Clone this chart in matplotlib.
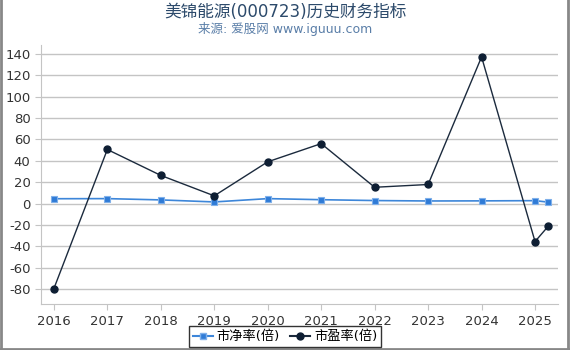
import matplotlib.pyplot as plt
from matplotlib.lines import Line2D

plt.rcParams['font.family'] = ['DejaVu Sans', 'Noto Sans CJK SC']
plt.rcParams['axes.unicode_minus'] = False

# data
years = [2016, 2017, 2018, 2019, 2020, 2021, 2022, 2023, 2024, 2025, 2025.25]
pb = [4.5, 4.6, 3.4, 1.5, 4.6, 3.6, 2.8, 2.4, 2.5, 2.7, 1.3]
pe = [-79.5, 50.5, 26.3, 7.2, 39.0, 56.0, 15.2, 17.8, 137.0, -35.5, -21.0]
year_ticks = [2016, 2017, 2018, 2019, 2020, 2021, 2022, 2023, 2024, 2025]
y_ticks = [-80, -60, -40, -20, 0, 20, 40, 60, 80, 100, 120, 140]

fig = plt.figure(figsize=(5.7, 3.5), dpi=100)
ax = fig.add_axes([0.072, 0.131, 0.907, 0.74])

ax.plot(years, pb, color='#3d86d9', lw=1.2, marker='s', ms=5,
        mfc='#2f7bd6', mec='#7fb0ea', mew=0.8, label='市净率(倍)', zorder=3)
ax.plot(years, pe, color='#1b2a3d', lw=1.0, marker='o', ms=5,
        mfc='#0e1e33', mec='#0e1e33', label='市盈率(倍)', zorder=4)

ax.set_xlim(2015.76, 2025.43)
ax.set_ylim(-94, 148)
ax.set_yticks(y_ticks)
ax.set_xticks(year_ticks)
ax.grid(axis='y', color='#c4c4c4', lw=1)
ax.set_axisbelow(True)
for s in ['top', 'right']:
    ax.spines[s].set_visible(False)
ax.spines['left'].set_color('#c4c4c4')
ax.spines['bottom'].set_color('#c4c4c4')
ax.tick_params(axis='both', colors='#c4c4c4', labelcolor='#333333',
               labelsize=9.5, length=4)

fig.text(0.5, 0.965, '美锦能源(000723)历史财务指标', ha='center', va='center',
         fontsize=12, color='#2c4a6b')
fig.text(0.5, 0.918, '来源: 爱股网 www.iguuu.com', ha='center', va='center',
         fontsize=9, color='#5a7ea8')

handles = [Line2D([], [], color='#3d86d9', marker='s', ms=5, mfc='#2f7bd6', mec='#7fb0ea'),
           Line2D([], [], color='#1b2a3d', marker='o', ms=5, mfc='#0e1e33', mec='#0e1e33')]
leg = fig.legend(handles, ['市净率(倍)', '市盈率(倍)'], loc='center', bbox_to_anchor=(0.5, 0.038),
                 ncol=2, fontsize=9.5, frameon=True, fancybox=False, handlelength=1.5,
                 handletextpad=0.3, columnspacing=0.8, borderpad=0.3)
leg.get_frame().set_edgecolor('black')
leg.get_frame().set_linewidth(1)

# grey frame around the figure (left, right, bottom)
fig.add_artist(Line2D([0.002, 0.002], [0, 1], color='#888888', lw=2, transform=fig.transFigure))
fig.add_artist(Line2D([0.997, 0.997], [0, 1], color='#888888', lw=2, transform=fig.transFigure))
fig.add_artist(Line2D([0, 1], [0.004, 0.004], color='#888888', lw=2, transform=fig.transFigure))

fig.savefig('out.png', dpi=100)
